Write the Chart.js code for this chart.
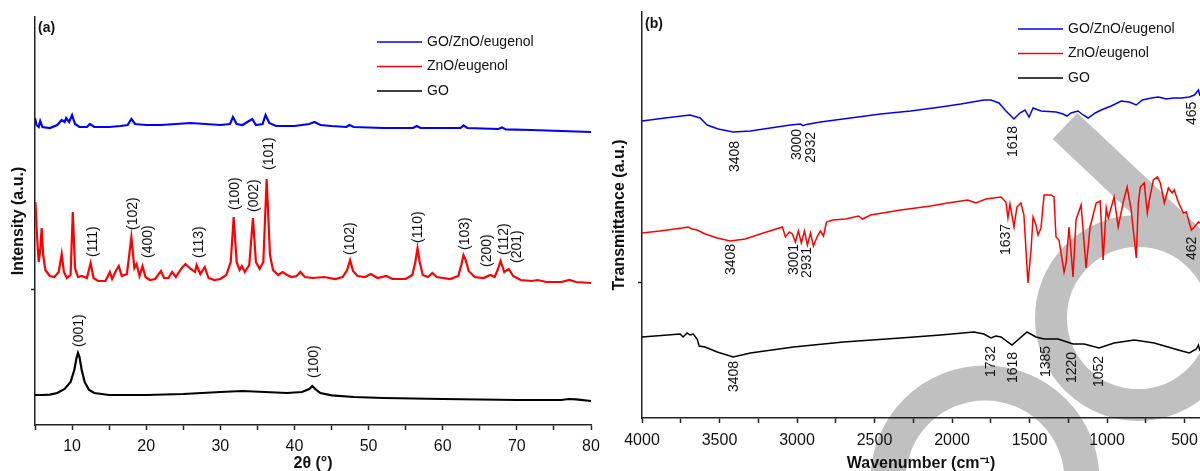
<!DOCTYPE html>
<html>
<head>
<meta charset="utf-8">
<script src="https://cdn.jsdelivr.net/npm/chart.js@4.4.0/dist/chart.umd.min.js"></script>
<style>
  html, body { margin: 0; padding: 0; background: #fff; }
  #wrap { position: relative; width: 1200px; height: 471px; overflow: hidden; }
  .panel { position: absolute; top: 0; width: 600px; height: 471px; }
  #panelA { left: 0; }
  #panelB { left: 600px; }
</style>
</head>
<body>
<div id="wrap">
  <div class="panel" id="panelA"><canvas id="xrd" width="600" height="471"></canvas></div>
  <div class="panel" id="panelB"><canvas id="ftir" width="600" height="471"></canvas></div>
</div>
<script>
const seriesNames = ['GO/ZnO/eugenol', 'ZnO/eugenol', 'GO']
const seriesColors = ['#0000ff', '#ff0000', '#000000']

// (a) XRD: [2θ (°), intensity (a.u.)]
const xrdBlue = [
  [5.0, 76.75], [5.2, 75], [5.5, 74.5], [5.7, 76], [6.0, 74.5], [7, 74.25], [8, 75], [8.6, 76.25],
  [9.0, 75.75], [9.2, 76.75], [9.6, 75.75], [10.0, 77.5], [10.4, 75.25], [11, 74.5], [12, 74.5],
  [12.4, 75.25], [13, 74.5], [15, 74.5], [16.5, 74.75], [17.5, 75], [18.0, 76.5], [18.5, 75.25],
  [20, 75], [22, 75], [24, 75.25], [26, 75.5], [28, 75.25], [30, 75], [31.3, 75.25], [31.7, 77],
  [32.2, 75.25], [33, 75], [34.3, 76.5], [34.8, 75], [35.7, 75.25], [36.1, 77.5], [36.6, 75.5],
  [37.5, 74.75], [40, 74.75], [42, 75.25], [42.7, 75.75], [43.5, 75], [45, 74.75], [47, 74.5],
  [47.4, 75], [48, 74.5], [52, 74.25], [56, 74.25], [56.5, 74.75], [57, 74.25], [62.4, 74.25],
  [62.8, 74.9], [63.3, 74.25], [67.5, 74], [68, 74.4], [68.5, 73.9], [72, 73.75], [76, 73.5], [80, 73.25]
]
const xrdRed = [
  [5.05, 55.75], [5.3, 46.25], [5.5, 40.75], [5.7, 43.75], [5.9, 49.25], [6.1, 42.5], [6.4, 38.75],
  [7, 37.25], [7.6, 37], [8.2, 38.25], [8.6, 42.75], [8.9, 38.25], [9.3, 36.75], [9.8, 37.5],
  [10.1, 53.25], [10.4, 39.25], [10.8, 37], [11.3, 37.25], [12.0, 36.75], [12.5, 40.5], [12.9, 36.75],
  [13.5, 36], [14.5, 36], [15.1, 38.25], [15.4, 36.5], [15.9, 38.5], [16.3, 39.75], [16.7, 37.25],
  [17.4, 37.75], [18.0, 47], [18.4, 39.25], [18.7, 40.25], [19.1, 37.25], [19.5, 39.75], [19.9, 37],
  [20.5, 36.25], [21.2, 36.5], [22.0, 38.5], [22.4, 36.75], [23.0, 36.75], [23.5, 38.25], [24.0, 37],
  [24.8, 39.25], [25.3, 40.25], [26.0, 39], [26.6, 38.25], [26.8, 40], [27.3, 37.75], [27.9, 39.5],
  [28.4, 36.75], [29.2, 36.25], [30.0, 36.5], [30.8, 37.5], [31.4, 40.75], [31.8, 52], [32.2, 40.75],
  [32.6, 38.75], [32.9, 39.75], [33.3, 38.25], [33.9, 40], [34.4, 51.75], [34.8, 40.75], [35.3, 39],
  [35.8, 40.75], [36.25, 61.5], [36.7, 42.5], [37.1, 38.75], [37.8, 37.5], [38.4, 38.25], [39.0, 37.5],
  [39.6, 37], [40.3, 37.25], [40.8, 38.25], [41.4, 37], [42.5, 36.75], [44, 37], [45.5, 36.5],
  [46.5, 37], [47.1, 38.75], [47.5, 41.25], [47.9, 38.5], [48.5, 37.25], [49.5, 37], [50.3, 37.75],
  [51.2, 36.75], [52.4, 37.25], [53.2, 36.5], [55, 36.5], [55.9, 37.5], [56.3, 40.75], [56.6, 44.25],
  [56.9, 40.75], [57.3, 37.5], [58.0, 37], [58.6, 38], [59.2, 37], [61, 36.5], [62.1, 37.25],
  [62.5, 40], [62.8, 42.5], [63.1, 41.25], [63.5, 38.5], [64.3, 37], [65.5, 36.75], [66.4, 37.5],
  [67.0, 37], [67.4, 38.75], [67.8, 41], [68.3, 38.25], [68.9, 39], [69.5, 37.25], [70.5, 36.25],
  [72, 36], [72.8, 36.25], [74, 35.75], [76, 35.75], [77.1, 36.25], [78, 35.75], [80, 35.5]
]
const xrdBlack = [
  [5, 7.5], [6, 7.5], [7, 7.6], [8, 8], [9, 9], [9.8, 10.75], [10.3, 13.75], [10.6, 16.75], [10.8, 18],
  [11.0, 17], [11.3, 13.75], [11.7, 10.75], [12.3, 8.75], [13, 8], [15, 7.5], [20, 7.5], [25, 7.75],
  [30, 8.25], [33, 8.5], [36, 8.25], [39, 8], [41, 8.25], [42.0, 9], [42.4, 9.75], [42.8, 9], [43.5, 8],
  [45, 7.4], [48, 7], [52, 6.75], [60, 6.5], [70, 6.25], [76, 6.25], [77, 6.5], [78, 6.4], [80, 6]
]
const xrdTicks = [5, 10, 15, 20, 25, 30, 35, 40, 45, 50, 55, 60, 65, 70, 75, 80]
const xrdTickLabels = [10, 20, 30, 40, 50, 60, 70, 80]
// [2θ, intensity where the label starts, text]
const xrdPeaks = [
  [11.0, 19.5, '(001)'], [42.6, 11.75, '(100)'],
  [12.8, 42, '(111)'], [18.3, 48.75, '(102)'], [20.3, 41.75, '(400)'], [27.1, 41.75, '(113)'],
  [32.0, 53.75, '(100)'], [34.6, 53.25, '(002)'], [36.6, 63.75, '(101)'], [47.5, 42.5, '(102)'],
  [56.7, 45.5, '(110)'], [63.0, 43.75, '(103)'], [66.0, 39.5, '(200)'], [68.3, 42.5, '(112)'],
  [70.0, 40.5, '(201)']
]

// (b) FTIR: [wavenumber (cm-1), transmittance (a.u.)]
const ftirBlue = [
  [4000, 74.25], [3851, 75], [3690, 75.75], [3625, 75], [3580, 73.25], [3508, 72.25], [3411, 71.5],
  [3301, 71.75], [3172, 72.5], [3043, 73.25], [2978, 73.5], [2960, 73.1], [2939, 73.4], [2849, 74],
  [2655, 75], [2461, 76], [2267, 76.75], [2073, 77.75], [1943, 78.5], [1794, 79.5], [1749, 79.5],
  [1697, 78.75], [1652, 76.75], [1600, 74.75], [1562, 76.25], [1529, 77], [1503, 75.25], [1477, 77.5],
  [1426, 76.75], [1329, 76.5], [1284, 76], [1258, 75.5], [1232, 76.25], [1187, 76.75], [1154, 75.75],
  [1122, 75], [1076, 76.25], [1038, 77], [973, 78], [908, 79.25], [857, 79], [811, 78.25], [772, 79.5],
  [714, 80], [669, 80.25], [617, 79.75], [572, 80], [520, 80], [469, 80.25], [436, 80.75], [410, 82],
  [400, 80.5]
]
const ftirRed = [
  [4000, 46.25], [3884, 46.75], [3741, 47.5], [3702, 47.75], [3677, 47.25], [3644, 47], [3592, 46],
  [3515, 45], [3431, 44.25], [3334, 44.75], [3237, 46], [3094, 47.75], [3075, 45.25], [3049, 46.5],
  [3030, 46], [3010, 44], [2991, 46.75], [2972, 43.75], [2952, 46.75], [2933, 43.25], [2913, 46.25],
  [2894, 43], [2868, 45.5], [2849, 46.75], [2829, 45.5], [2810, 49], [2771, 49.5], [2687, 49.75],
  [2603, 50.5], [2577, 49.75], [2525, 50.75], [2331, 52], [2137, 53], [2027, 53.75], [1898, 54.5],
  [1846, 53.75], [1781, 54.75], [1684, 55.25], [1652, 54], [1639, 50], [1626, 53.5], [1600, 47.75],
  [1581, 52.75], [1555, 53.75], [1536, 50.75], [1510, 33.75], [1490, 42], [1477, 50.25], [1458, 48.25],
  [1445, 45.75], [1426, 47.5], [1406, 55.75], [1361, 55.75], [1342, 55.25], [1329, 45.25], [1310, 44.5],
  [1277, 36.5], [1264, 38.75], [1245, 47.75], [1219, 35.25], [1200, 49.5], [1167, 53.25], [1135, 37.5],
  [1109, 47.75], [1070, 53.75], [1044, 54.25], [1025, 39.5], [1005, 52.5], [992, 50], [954, 55.25],
  [928, 47.75], [895, 54], [870, 57.75], [844, 52], [811, 40], [798, 53.75], [785, 57.75], [760, 58.75],
  [740, 51.25], [727, 54.5], [701, 59.5], [675, 60.25], [656, 58.75], [630, 53.75], [604, 57.5],
  [579, 56.25], [566, 57], [540, 54], [507, 51.25], [488, 51.5], [456, 47], [436, 47.75], [410, 49],
  [400, 48.75]
]
const ftirBlack = [
  [4000, 20.25], [3754, 21], [3735, 20.25], [3709, 21.25], [3690, 20.75], [3670, 21], [3644, 19.75],
  [3631, 18], [3593, 17.75], [3515, 16.5], [3411, 15.25], [3301, 16.25], [3023, 17.75], [2700, 19],
  [2331, 20], [2073, 20.75], [1859, 21.5], [1794, 21], [1749, 20], [1717, 20.5], [1684, 20.25],
  [1613, 18.25], [1516, 21.5], [1458, 20.25], [1406, 19.75], [1316, 19.75], [1219, 18.5], [1148, 18.5],
  [1051, 17.5], [954, 18.75], [824, 19.5], [695, 18.75], [540, 17], [469, 16.25], [423, 17.25],
  [410, 18.25], [400, 16.75]
]
const ftirTicks = [500, 750, 1000, 1250, 1500, 1750, 2000, 2250, 2500, 2750, 3000, 3250, 3500, 3750, 4000]
const ftirTickLabels = [500, 1000, 1500, 2000, 2500, 3000, 3500, 4000]
const ftirPeaks = [
  [3398, 61.5, '3408'], [2997, 64.5, '3000'], [2907, 63.75, '2932'], [1607, 65.25, '1618'], [449, 73.25, '465'],
  [3424, 35.75, '3408'], [3017, 35.75, '3001'], [2933, 35, '2931'], [1652, 40.75, '1637'], [449, 39.5, '462'],
  [3405, 6.5, '3408'], [1749, 10.25, '1732'], [1607, 8.75, '1618'], [1393, 10.25, '1385'], [1225, 8.75, '1220'],
  [1051, 7.75, '1052']
]

const FONT = "'Liberation Sans', Arial, Helvetica, sans-serif"
const AXIS = '#222'
Chart.defaults.font.family = FONT
Chart.defaults.color = '#111'

function decor(p) {
  return {
    id: 'decor',
    beforeDraw(chart) {
      if (!p.watermark) return
      const ctx = chart.ctx
      ctx.save()
      ctx.strokeStyle = '#c0c0c0'
      ctx.lineCap = 'butt'
      ctx.lineWidth = 32
      ctx.beginPath()
      ctx.arc(538, 318, 87, 0, Math.PI * 2)
      ctx.stroke()
      ctx.lineWidth = 35
      ctx.beginPath()
      ctx.arc(385, 480, 97, 0, Math.PI * 2)
      ctx.stroke()
      ctx.lineWidth = 36
      ctx.beginPath()
      ctx.moveTo(465, 126)
      ctx.lineTo(465 + 0.728 * 300, 126 + 0.686 * 300)
      ctx.stroke()
      ctx.restore()
    },
    afterDatasetsDraw(chart) {
      const { ctx, chartArea, scales: { x, y } } = chart
      ctx.save()
      ctx.fillStyle = '#111'
      ctx.font = `14px ${FONT}`
      ctx.textAlign = 'left'
      ctx.textBaseline = 'middle'
      for (const [px, py, text] of p.peaks) {
        ctx.save()
        ctx.translate(x.getPixelForValue(px), y.getPixelForValue(py))
        ctx.rotate(-Math.PI / 2)
        ctx.fillText(text, 0, 0)
        ctx.restore()
      }

      // legend
      const lx = chartArea.left + p.legendDx
      chart.data.datasets.forEach((ds, i) => {
        const ly = chartArea.top + p.legendDy + i * 24.5
        ctx.strokeStyle = ds.borderColor
        ctx.lineWidth = 1.5
        ctx.beginPath()
        ctx.moveTo(lx, ly)
        ctx.lineTo(lx + 45, ly)
        ctx.stroke()
        ctx.fillText(ds.label, lx + 50, ly)
      })

      ctx.font = `bold 14px ${FONT}`
      ctx.fillText(p.tag, chartArea.left + 3, chartArea.top + p.tagDy)
      ctx.restore()
    },
  }
}

function makeChart(id, p) {
  const sets = [p.blue, p.red, p.black]
  return new Chart(document.getElementById(id), {
    type: 'line',
    data: {
      datasets: sets.map((s, i) => ({
        label: seriesNames[i],
        data: s.map(([x, y]) => ({ x, y })),
        borderColor: seriesColors[i],
        borderWidth: p.lineWidth,
        pointRadius: 0,
        tension: 0,
        fill: false,
      })),
    },
    options: {
      responsive: false,
      animation: false,
      parsing: false,
      layout: { padding: { top: p.top, right: p.right, left: 0, bottom: 0 } },
      plugins: { legend: { display: false }, tooltip: { enabled: false } },
      scales: {
        x: {
          type: 'linear',
          min: p.xMin,
          max: p.xMax,
          reverse: p.reverse,
          afterBuildTicks: (s) => {
            s.ticks = p.xTicks.map((v) => ({ value: v }))
          },
          afterFit: (s) => {
            s.height = p.xHeight
            s.paddingLeft = 0
            s.paddingRight = 0
          },
          ticks: {
            autoSkip: false,
            maxRotation: 0,
            padding: p.tickPad,
            color: '#111',
            font: { size: 16 },
            callback: (v) => (p.xLabels.includes(v) ? String(v) : ''),
          },
          grid: { drawOnChartArea: false, drawTicks: true, tickLength: 5, tickColor: AXIS, tickWidth: 1.5 },
          border: { display: true, color: AXIS, width: 1.5 },
          title: {
            display: true,
            text: p.xTitle,
            color: '#111',
            font: { size: 16, weight: 'bold' },
            padding: { top: 0, bottom: -2 },
          },
        },
        y: {
          type: 'linear',
          min: 0,
          max: p.yMax,
          afterBuildTicks: (s) => {
            s.ticks = [{ value: p.yMax / 3 }]
          },
          afterFit: (s) => {
            s.width = p.yWidth
          },
          ticks: { display: false },
          grid: { drawOnChartArea: false, drawTicks: true, tickLength: 4, tickColor: AXIS, tickWidth: 1.5 },
          border: { display: true, color: AXIS, width: 1.5 },
          title: {
            display: true,
            text: p.yTitle,
            color: '#111',
            font: { size: 16, weight: 'bold' },
            padding: { top: p.yTitlePad, bottom: 0 },
          },
        },
      },
    },
    plugins: [decor(p)],
  })
}

makeChart('xrd', {
  blue: xrdBlue, red: xrdRed, black: xrdBlack,
  peaks: xrdPeaks, tag: '(a)', tagDy: 11,
  xMin: 5, xMax: 80, reverse: false, xTicks: xrdTicks, xLabels: xrdTickLabels,
  xTitle: '2θ (°)', yTitle: 'Intensity (a.u.)', yMax: 102,
  top: 17, right: 9, xHeight: 46, yWidth: 35, yTitlePad: 9, tickPad: 7,
  lineWidth: 2.2, legendDx: 342, legendDy: 25, watermark: false,
})

makeChart('ftir', {
  blue: ftirBlue, red: ftirRed, black: ftirBlack,
  peaks: ftirPeaks, tag: '(b)', tagDy: 12,
  xMin: 400, xMax: 4000, reverse: true, xTicks: ftirTicks, xLabels: ftirTickLabels,
  xTitle: 'Wavenumber (cm⁻¹)', yTitle: 'Transmittance (a.u.)', yMax: 101.5,
  top: 12, right: 0, xHeight: 53, yWidth: 42, yTitlePad: 10, tickPad: 8,
  lineWidth: 1.5, legendDx: 376, legendDy: 17, watermark: true,
})
</script>
</body>
</html>
